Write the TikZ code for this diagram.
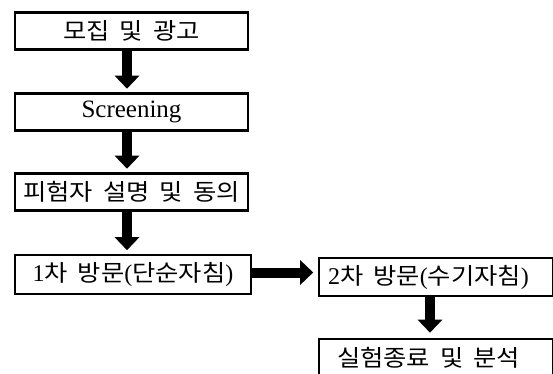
\documentclass[tikz,border=0pt]{standalone}
\usepackage{fontspec}
\setmainfont{Liberation Serif}
\newfontfamily\kr[FakeStretch=1.1]{Noto Sans CJK KR}
\usetikzlibrary{arrows.meta,calc}
\newcommand\K[1]{{\kr\fontsize{23}{27}\selectfont #1}}
\newcommand\ksp{\hspace{10pt}}
\tikzset{
  box/.style={draw=black, line width=2.6pt, fill=white, inner sep=0pt,
    minimum width=233pt, minimum height=37pt,
    font=\fontsize{24}{28}\selectfont},
  bigarrow/.style={line width=10pt, -{Triangle[width=24pt,length=13pt]}, shorten >=3.5pt}
}
\begin{document}
\begin{tikzpicture}[x=1pt,y=-1pt]
\useasboundingbox (0,0) rectangle (553,374);
\clip (0,0) rectangle (553,374);
\node[box] (b1) at (131.5,31) {\K{모집}\ksp\K{및}\ksp\K{광고}};
\node[box] (b2) at (131.5,112) {\fontsize{25}{30}\selectfont Screening};
\node[box] (b3) at (131.5,192) {\K{피험자}\ksp\K{설명}\ksp\K{및}\ksp\K{동의}};
\node[box, minimum width=236pt, minimum height=39pt] (b4) at (133,274.5) {1\K{차}\ksp\K{방문}(\K{단순자침})};
\node[box, minimum width=234pt, minimum height=38pt] (b5) at (436,277) {\hspace{-15pt}2\K{차}\ksp\K{방문}(\K{수기자침})};
\node[box, minimum width=234pt, minimum height=38pt] (b6) at (436,358) {\hspace{-15pt}\K{실험종료}\ksp\K{및}\ksp\K{분석}};
\coordinate (ax) at (127,0);
\coordinate (bx) at (430,0);
\coordinate (hy) at (0,272.5);
\draw[bigarrow] (b1.south -| ax) -- (b2.north -| ax);
\draw[bigarrow] (b2.south -| ax) -- (b3.north -| ax);
\draw[bigarrow] (b3.south -| ax) -- (b4.north -| ax);
\draw[bigarrow, shorten >=4.5pt] (b4.east |- hy) -- (b5.west |- hy);
\draw[bigarrow, shorten >=5pt] (b5.south -| bx) -- (b6.north -| bx);
\end{tikzpicture}
\end{document}
